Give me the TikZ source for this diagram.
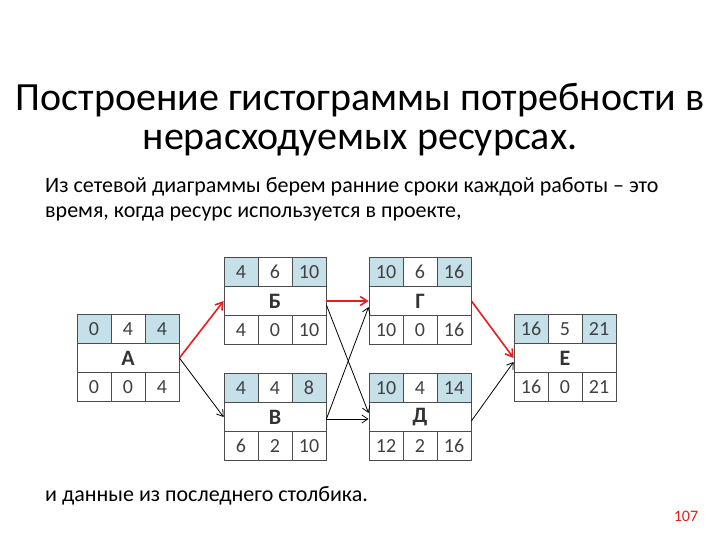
\documentclass[tikz,border=0pt]{standalone}
\usepackage{fontspec}
\setmainfont[Numbers=Lining]{Carlito}
\usetikzlibrary{arrows.meta}
\definecolor{cellblue}{RGB}{198,224,234}
\definecolor{critred}{RGB}{230,30,30}
\tikzset{
  cell/.style={draw=black!70, line width=0.8pt, minimum width=34pt, minimum height=29pt, inner sep=0pt, font=\fontsize{20}{20}\selectfont, text=black!75},
  es/.style={cell, fill=cellblue},
  mid/.style={draw=black!70, line width=0.8pt, minimum width=102pt, minimum height=29pt, inner sep=0pt, font=\fontsize{22}{22}\selectfont\bfseries, text=black!80},
  conn/.style={-{Straight Barb[length=6pt,width=8pt]}, line width=0.8pt, black},
  crit/.style={-{Straight Barb[length=7pt,width=9pt]}, line width=1.6pt, critred},
}
\newcommand{\actbox}[9]{%
  \node[es]   (#1a) at (#2-34,#3-29) {#5};
  \node[cell] (#1b) at (#2,#3-29) {#6};
  \node[es]   (#1c) at (#2+34,#3-29) {#7};
  \node[mid]  (#1) at (#2,#3) {#4};
  \node[cell] (#1d) at (#2-34,#3+29) {#8};
  \node[cell] (#1e) at (#2,#3+29) {#9};
}
\begin{document}
\begin{tikzpicture}[x=1pt,y=-1pt]
\useasboundingbox (0,0) rectangle (720,540);
\node (t1) at (360,100) {\fontsize{40}{40}\selectfont Построение гистограммы потребности в};
\node (t2) at (360,143) {\fontsize{40}{40}\selectfont нерасходуемых ресурсах.};
\node[anchor=west, inner sep=0pt] (p1) at (45,187) {\fontsize{22}{22}\selectfont Из сетевой диаграммы берем ранние сроки каждой работы – это};
\node[anchor=west, inner sep=0pt] (p2) at (45,214) {\fontsize{22}{22}\selectfont время, когда ресурс используется в проекте,};
\node[anchor=west, inner sep=0pt] (p3) at (45,496) {\fontsize{22}{22}\selectfont и данные из последнего столбика.};
\node[text=critred] (pg) at (686,516) {\fontsize{16}{16}\selectfont 107};

\actbox{A}{128}{358}{А}{0}{4}{4}{0}{0}\node[cell] (Af) at (162,387) {4};
\actbox{B}{275}{301}{Б}{4}{6}{10}{4}{0}\node[cell] (Bf) at (309,330) {10};
\actbox{V}{275}{417}{В}{4}{4}{8}{6}{2}\node[cell] (Vf) at (309,446) {10};
\actbox{G}{420}{301}{Г}{10}{6}{16}{10}{0}\node[cell] (Gf) at (454,330) {16};
\actbox{D}{420}{417}{Д}{10}{4}{14}{12}{2}\node[cell] (Df) at (454,446) {16};
\actbox{E}{565}{358}{Е}{16}{5}{21}{16}{0}\node[cell] (Ef) at (599,387) {21};

\draw[crit] (A.east) -- (B.west);
\draw[conn] (A.east) -- (V.west);
\draw[crit] (B.east) -- (G.west);
\draw[conn] ([yshift=-4pt]B.east) -- ([yshift=4pt]D.west);
\draw[conn] ([yshift=-2pt]V.east) -- ([yshift=-6pt]G.west);
\draw[conn] ([yshift=-2pt]V.east) -- ([yshift=-2pt]D.west);
\draw[crit] (G.east) -- (E.west);
\draw[conn] ([yshift=-4pt]D.east) -- ([yshift=-4pt]E.west);
\end{tikzpicture}
\end{document}
